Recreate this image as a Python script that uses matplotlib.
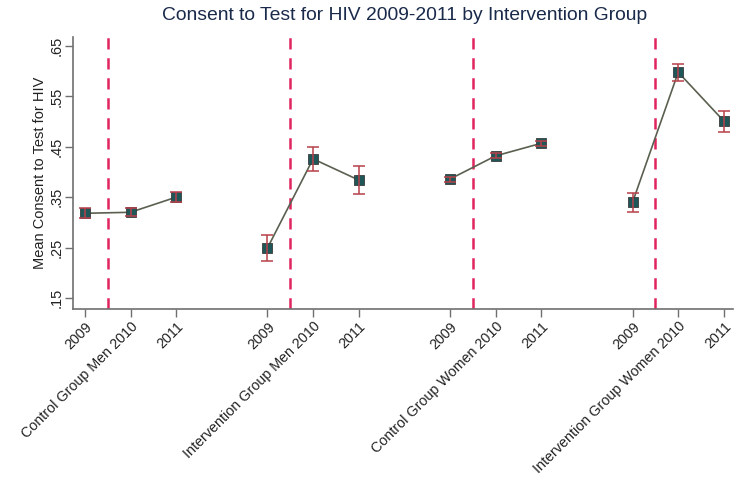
import matplotlib
matplotlib.use("Agg")
import matplotlib.pyplot as plt
import numpy as np

plt.rcParams['font.family'] = ['Liberation Sans', 'DejaVu Sans']

groups = ["Control Group Men", "Intervention Group Men", "Control Group Women", "Intervention Group Women"]
years = ["2009", "2010", "2011"]
positions = [[1, 2, 3], [5, 6, 7], [9, 10, 11], [13, 14, 15]]
means = [
    [0.318, 0.320, 0.350],
    [0.249, 0.426, 0.384],
    [0.386, 0.432, 0.457],
    [0.340, 0.598, 0.501],
]
errors = [
    [0.010, 0.008, 0.010],
    [0.025, 0.024, 0.027],
    [0.005, 0.005, 0.005],
    [0.019, 0.017, 0.021],
]
divider_positions = [1.5, 5.5, 9.5, 13.5]
ytick_values = [0.15, 0.25, 0.35, 0.45, 0.55, 0.65]
ytick_labels = [".15", ".25", ".35", ".45", ".55", ".65"]

fig = plt.figure(figsize=(7.34, 4.79), dpi=100)
ax = fig.add_axes([73/734, 1-309/479, (733-73)/734, (309-37)/479])

for pos, m, e in zip(positions, means, errors):
    ax.plot(pos, m, color="#5a6050", lw=1.2, zorder=2)
    ax.plot(pos, m, ls="none", marker="s", ms=7.5, mfc="#1f5658", mec="#3a3a3a", mew=0.6, zorder=3)
    ax.errorbar(pos, m, yerr=e, fmt="none", ecolor="#b8404a", elinewidth=1.1, capsize=4.5, capthick=1.1, zorder=4)

for x in divider_positions:
    ax.axvline(x, color="#e0245e", lw=1.8, ls=(0, (4.5, 3.5)), zorder=1)

xt = [p for pos in positions for p in pos]
xl = []
for g in groups:
    xl += [years[0], g + " " + years[1], years[2]]
ax.set_xticks(xt)
ax.set_xticklabels(xl, rotation=45, ha="right", rotation_mode="anchor", fontsize=10.3, color="#222222")
ax.set_yticks(ytick_values)
ax.set_yticklabels(ytick_labels, rotation=90, va="center", fontsize=10.5, color="#222222")
ax.set_xlim(0.74, 15.2)
ax.set_ylim(0.128, 0.668)
ax.set_ylabel("Mean Consent to Test for HIV", fontsize=10.5, color="#222222", labelpad=2)

for s in ["top", "right"]:
    ax.spines[s].set_visible(False)
for s in ["left", "bottom"]:
    ax.spines[s].set_color("#707070")
    ax.spines[s].set_linewidth(1.2)
ax.tick_params(axis="both", colors="#707070", length=5.5, width=1.0)
ax.tick_params(axis="y", pad=1)
ax.tick_params(axis="x", pad=2)
ax.tick_params(axis="both", labelcolor="#222222")

fig.suptitle("Consent to Test for HIV 2009-2011 by Intervention Group", x=405/734, y=1-7/479, va="top",
             fontsize=13.9, color="#1a2a4a")

fig.savefig("out.png", dpi=100)
